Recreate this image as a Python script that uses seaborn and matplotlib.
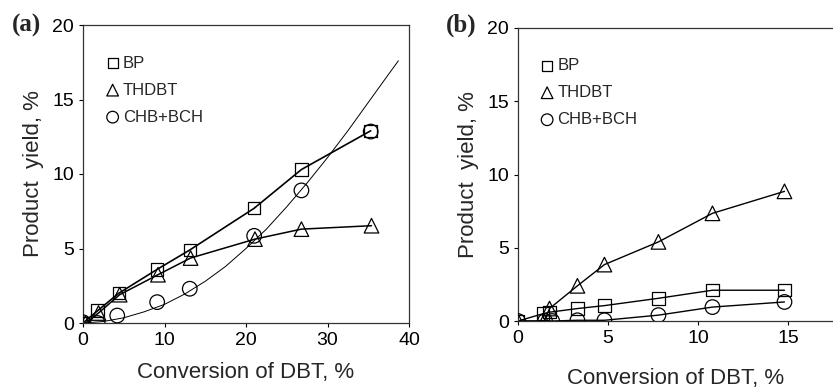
import numpy as np
import pandas as pd
import matplotlib
matplotlib.use("Agg")
import matplotlib.pyplot as plt
import seaborn as sns

# ================== Data ==================
# panel (a)
a_bp_x = [0, 1.8, 4.4, 9.1, 13.1, 21.0, 26.8, 35.3]
a_bp_y = [0, 0.83, 2.0, 3.6, 4.9, 7.7, 10.3, 12.9]
a_th_x = [0.3, 1.9, 4.5, 9.2, 13.2, 21.1, 26.8, 35.4]
a_th_y = [0, 0.67, 1.9, 3.24, 4.36, 5.63, 6.3, 6.53]
a_ch_x = [0, 1.8, 4.2, 9.1, 13.1, 21.0, 26.8, 35.3]
a_ch_y = [0.05, 0, 0.5, 1.4, 2.3, 5.85, 8.9, 12.85]
# trend line drawn for CHB+BCH
a_trend_x = [0, 2.5, 5, 7.5, 10, 12.5, 15, 17.5, 20, 22.5, 25, 27.5, 30, 32.5, 35, 37.5, 38.7]
a_trend_y = [0, 0.1, 0.35, 0.75, 1.25, 1.95, 2.8, 3.8, 5.0, 6.3, 7.8, 9.4, 11.1, 12.9, 14.8, 16.7, 17.6]

# panel (b)
b_bp_x = [0, 1.4, 1.75, 3.3, 4.8, 7.8, 10.8, 14.8]
b_bp_y = [0, 0.5, 0.6, 0.85, 1.05, 1.55, 2.1, 2.1]
b_th_x = [0, 1.45, 1.75, 3.3, 4.8, 7.8, 10.8, 14.8]
b_th_y = [0, 0, 0.85, 2.4, 3.85, 5.4, 7.35, 8.85]
b_ch_x = [0, 1.5, 1.9, 3.3, 4.8, 7.8, 10.8, 14.8]
b_ch_y = [0, 0, 0, 0.05, 0.05, 0.4, 0.95, 1.3]

labels = ["BP", "THDBT", "CHB+BCH"]

# ================== Style ==================
sns.set_style("ticks")
plt.rcParams['font.family'] = ['Liberation Sans', 'DejaVu Sans']
plt.rcParams['xtick.direction'] = 'out'
plt.rcParams['ytick.direction'] = 'out'

fig = plt.figure(figsize=(8.33, 3.88), dpi=100)
ax_a = fig.add_axes([83 / 833, 1 - 323 / 388, 326 / 833, 298 / 388])
ax_b = fig.add_axes([518 / 833, 1 - 321 / 388, 316 / 833, 293 / 388])


def draw_markers(ax, xs, ys, marker, label, size):
    sns.scatterplot(x=xs, y=ys, ax=ax, marker=marker, s=size, facecolors='none',
                    edgecolor='black', linewidth=0.9, label=label, zorder=3)


def draw_line(ax, xs, ys, lw):
    sns.lineplot(x=xs, y=ys, ax=ax, color='black', lw=lw, estimator=None, sort=False, zorder=2)


# panel (a)
draw_line(ax_a, a_bp_x, a_bp_y, 1.2)
draw_line(ax_a, a_th_x, a_th_y, 1.1)
draw_line(ax_a, a_trend_x, a_trend_y, 0.7)
draw_markers(ax_a, a_bp_x, a_bp_y, 's', labels[0], 80)
draw_markers(ax_a, a_th_x, a_th_y, '^', labels[1], 110)
draw_markers(ax_a, a_ch_x, a_ch_y, 'o', labels[2], 110)

# panel (b)
draw_line(ax_b, b_bp_x, b_bp_y, 1.0)
draw_line(ax_b, b_th_x, b_th_y, 1.0)
draw_line(ax_b, b_ch_x, b_ch_y, 1.0)
draw_markers(ax_b, b_bp_x, b_bp_y, 's', labels[0], 80)
draw_markers(ax_b, b_th_x, b_th_y, '^', labels[1], 110)
draw_markers(ax_b, b_ch_x, b_ch_y, 'o', labels[2], 110)

ax_a.set_xlim(0, 40)
ax_a.set_xticks([0, 10, 20, 30, 40])
ax_b.set_xlim(0, 17.55)
ax_b.set_xticks([0, 5, 10, 15])

for ax in (ax_a, ax_b):
    ax.set_ylim(0, 20)
    ax.set_yticks([0, 5, 10, 15, 20])
    ax.tick_params(labelsize=14, length=3, width=0.8, colors='black')
    for sp in ax.spines.values():
        sp.set_linewidth(0.9)
        sp.set_color('#333333')
    ax.set_xlabel("Conversion of DBT, %", fontsize=16, labelpad=9)
    ax.set_ylabel("Product  yield, %", fontsize=16, labelpad=6)
    ax.legend(loc='upper left', bbox_to_anchor=(0.05, 0.92), frameon=False,
              fontsize=12, handletextpad=0.2, labelspacing=0.72, borderaxespad=0,
              markerscale=0.8, handlelength=0.8)

ax_b.spines['right'].set_visible(False)
ax_b.xaxis.labelpad = 15

fig.text(12 / 833, 1 - 25 / 388, "(a)", fontsize=18, fontweight='bold',
         family='Liberation Serif', va='center')
fig.text(446 / 833, 1 - 25 / 388, "(b)", fontsize=18, fontweight='bold',
         family='Liberation Serif', va='center')

fig.savefig("out.png", dpi=100)
